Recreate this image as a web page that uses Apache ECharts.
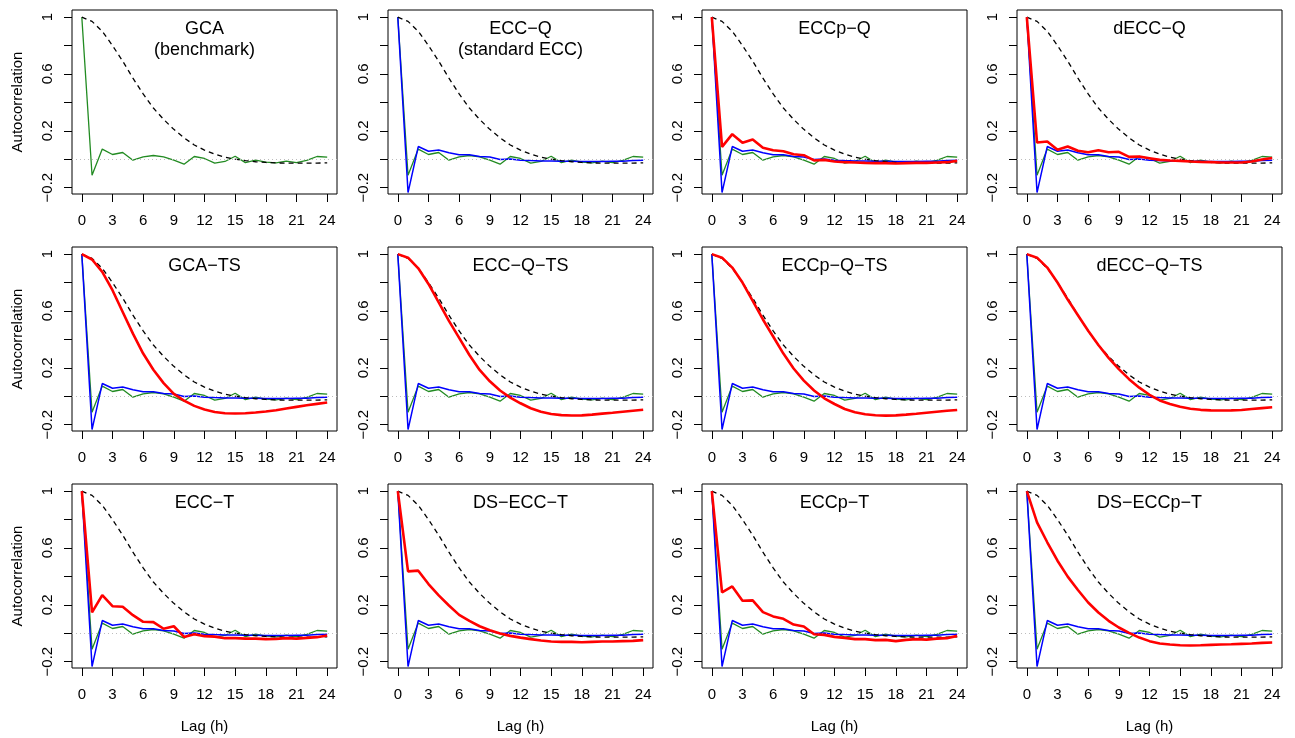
<!DOCTYPE html>
<html><head><meta charset="utf-8">
<script src="https://cdn.jsdelivr.net/npm/echarts@6/dist/echarts.min.js"></script>
<style>html,body{margin:0;padding:0;background:#fff}#c{width:1295px;height:738px}</style>
</head><body><div id="c"></div>
<script>
const lags = [0,1,2,3,4,5,6,7,8,9,10,11,12,13,14,15,16,17,18,19,20,21,22,23,24];
const xTicks = [0,3,6,9,12,15,18,21,24];
const yTicks = [-0.2,0,0.2,0.4,0.6,0.8,1];
const yTickLabels = [-0.2,0.2,0.6,1];
const titles = ["GCA\n(benchmark)","ECC\u2212Q\n(standard ECC)","ECCp\u2212Q","dECC\u2212Q",
  "GCA\u2212TS","ECC\u2212Q\u2212TS","ECCp\u2212Q\u2212TS","dECC\u2212Q\u2212TS",
  "ECC\u2212T","DS\u2212ECC\u2212T","ECCp\u2212T","DS\u2212ECCp\u2212T"];

// black dashed reference (same in all panels)
const observed = [1.0,0.97,0.90,0.80,0.69,0.57,0.46,0.36,0.28,0.21,0.15,0.10,0.064,0.035,0.015,0.0,-0.01,-0.018,-0.023,-0.026,-0.028,-0.028,-0.028,-0.027,-0.026];
// green (GCA benchmark)
const gcaBench = [1,-0.113,0.071,0.033,0.047,-0.007,0.016,0.026,0.016,-0.007,-0.035,0.019,0.005,-0.028,-0.016,0.021,-0.024,-0.007,-0.021,-0.026,-0.014,-0.024,-0.009,0.019,0.014];
// blue (standard ECC)
const eccStd = [1,-0.235,0.089,0.056,0.064,0.045,0.031,0.031,0.019,0.016,-0.002,0.002,-0.007,-0.01,-0.012,-0.013,-0.015,-0.015,-0.017,-0.017,-0.016,-0.015,-0.014,-0.01,-0.008];
// red series per panel
const redECCpQ = [1,0.087,0.176,0.115,0.138,0.080,0.063,0.056,0.035,0.028,-0.009,-0.005,-0.016,-0.021,-0.023,-0.026,-0.028,-0.028,-0.030,-0.028,-0.026,-0.026,-0.023,-0.021,-0.012];
const redDECCQ = [1,0.117,0.124,0.066,0.089,0.059,0.049,0.063,0.049,0.052,0.016,0.019,0.007,-0.005,-0.009,-0.012,-0.016,-0.019,-0.021,-0.023,-0.023,-0.023,-0.016,-0.002,0.009];
const redGCATS = [1,0.962,0.875,0.746,0.593,0.44,0.30,0.186,0.092,0.016,-0.031,-0.068,-0.094,-0.111,-0.12,-0.122,-0.12,-0.115,-0.108,-0.099,-0.087,-0.075,-0.064,-0.054,-0.045];
const redECCQTS = [1,0.975,0.90,0.79,0.66,0.53,0.41,0.29,0.185,0.105,0.04,-0.01,-0.05,-0.085,-0.11,-0.125,-0.133,-0.136,-0.135,-0.13,-0.123,-0.117,-0.11,-0.103,-0.096];
const redECCpQTS = [1,0.975,0.905,0.80,0.67,0.54,0.42,0.30,0.195,0.11,0.04,-0.015,-0.055,-0.09,-0.113,-0.127,-0.134,-0.137,-0.135,-0.13,-0.124,-0.117,-0.11,-0.103,-0.097];
const redDECCQTS = [1,0.975,0.905,0.80,0.68,0.57,0.46,0.36,0.27,0.19,0.12,0.06,0.01,-0.03,-0.055,-0.075,-0.088,-0.096,-0.1,-0.101,-0.1,-0.097,-0.09,-0.084,-0.078];
const redECCT = [1,0.146,0.268,0.19,0.186,0.127,0.08,0.078,0.031,0.049,-0.026,-0.007,-0.021,-0.024,-0.035,-0.035,-0.038,-0.038,-0.042,-0.04,-0.035,-0.038,-0.033,-0.028,-0.016];
const redDSECCT = [1,0.435,0.44,0.346,0.266,0.195,0.129,0.087,0.049,0.021,-0.002,-0.019,-0.031,-0.042,-0.052,-0.059,-0.061,-0.061,-0.064,-0.061,-0.059,-0.059,-0.056,-0.054,-0.049];
const redECCpT = [1,0.287,0.329,0.228,0.231,0.148,0.118,0.101,0.061,0.047,-0.007,-0.012,-0.026,-0.033,-0.042,-0.042,-0.049,-0.047,-0.056,-0.047,-0.042,-0.045,-0.038,-0.035,-0.019];
const redDSECCpT = [1,0.78,0.64,0.51,0.398,0.304,0.216,0.146,0.087,0.04,0.002,-0.031,-0.056,-0.073,-0.08,-0.085,-0.087,-0.085,-0.082,-0.08,-0.078,-0.075,-0.073,-0.068,-0.066];

const panelRed = [null,null,redECCpQ,redDECCQ,redGCATS,redECCQTS,redECCpQTS,redDECCQTS,redECCT,redDSECCT,redECCpT,redDSECCpT];
const panelBlue = [false,true,true,true,true,true,true,true,true,true,true,true];

const FONT = '"Liberation Sans", Arial, Helvetica, sans-serif';
const colLeft = [72, 388, 702, 1017];
const rowTop = [10, 247, 484];
const W = 265, H = 184;

function pairs(arr){ return lags.map((l,i)=>[l, arr[i]]); }
function fmt(v){ return (v<0?'\u2212':'') + String(Math.round(Math.abs(v)*10)/10); }

const grids=[], xAxes=[], yAxes=[], series=[], graphics=[];
for (let p=0;p<12;p++){
  const r=Math.floor(p/4), c=p%4;
  grids.push({left:colLeft[c], top:rowTop[r], width:W, height:H, show:true, borderColor:'#000', borderWidth:1, backgroundColor:'transparent'});
  xAxes.push({gridIndex:p, type:'value', min:-0.96, max:24.96,
    axisLine:{show:false,onZero:false}, splitLine:{show:false},
    axisTick:{show:true, customValues:xTicks, length:8, lineStyle:{color:'#000',width:1}},
    axisLabel:{show:true, customValues:xTicks, margin:19, fontSize:15, color:'#000', fontFamily:FONT},
    name: r===2 ? 'Lag (h)' : '', nameLocation:'middle', nameGap:51,
    nameTextStyle:{fontSize:15, color:'#000', fontFamily:FONT}});
  yAxes.push({gridIndex:p, type:'value', min:-0.245, max:1.05,
    axisLine:{show:false,onZero:false}, splitLine:{show:false},
    axisTick:{show:true, customValues:yTicks, length:8, lineStyle:{color:'#000',width:1}},
    axisLabel:{show:true, customValues:yTickLabels, rotate:90, margin:17, fontSize:15, color:'#000', fontFamily:FONT, formatter:fmt},
    name: c===0 ? 'Autocorrelation' : '', nameLocation:'middle', nameRotate:90, nameGap:47,
    nameTextStyle:{fontSize:15, color:'#000', fontFamily:FONT}});
  series.push({type:'line', xAxisIndex:p, yAxisIndex:p, data:pairs(gcaBench), showSymbol:false, symbol:'none',
    lineStyle:{color:'#228B22', width:1.3}, z:2,
    markLine:{silent:true, symbol:'none', label:{show:false}, data:[{yAxis:0}],
      lineStyle:{color:'#bdbdbd', type:[1,3], width:1}, animation:false}});
  if (panelBlue[p]) series.push({type:'line', xAxisIndex:p, yAxisIndex:p, data:pairs(eccStd), showSymbol:false, symbol:'none',
    lineStyle:{color:'#0000FF', width:1.5}, z:3});
  series.push({type:'line', xAxisIndex:p, yAxisIndex:p, data:pairs(observed), showSymbol:false, symbol:'none',
    lineStyle:{color:'#000', width:1.3, type:[5,4]}, z:4});
  if (panelRed[p]) series.push({type:'line', xAxisIndex:p, yAxisIndex:p, data:pairs(panelRed[p]), showSymbol:false, symbol:'none',
    lineStyle:{color:'#FF0000', width:2.6}, z:5});
  graphics.push({type:'text', x: colLeft[c]+W/2, y: rowTop[r]+9, z:10,
    style:{text:titles[p], align:'center', verticalAlign:'top', fontSize:18, lineHeight:21, fontFamily:FONT, fill:'#000'}});
}

const chart = echarts.init(document.getElementById('c'), null, {renderer:'canvas'});
chart.setOption({animation:false, backgroundColor:'#fff', grid:grids, xAxis:xAxes, yAxis:yAxes, series:series, graphic:graphics});
</script></body></html>
